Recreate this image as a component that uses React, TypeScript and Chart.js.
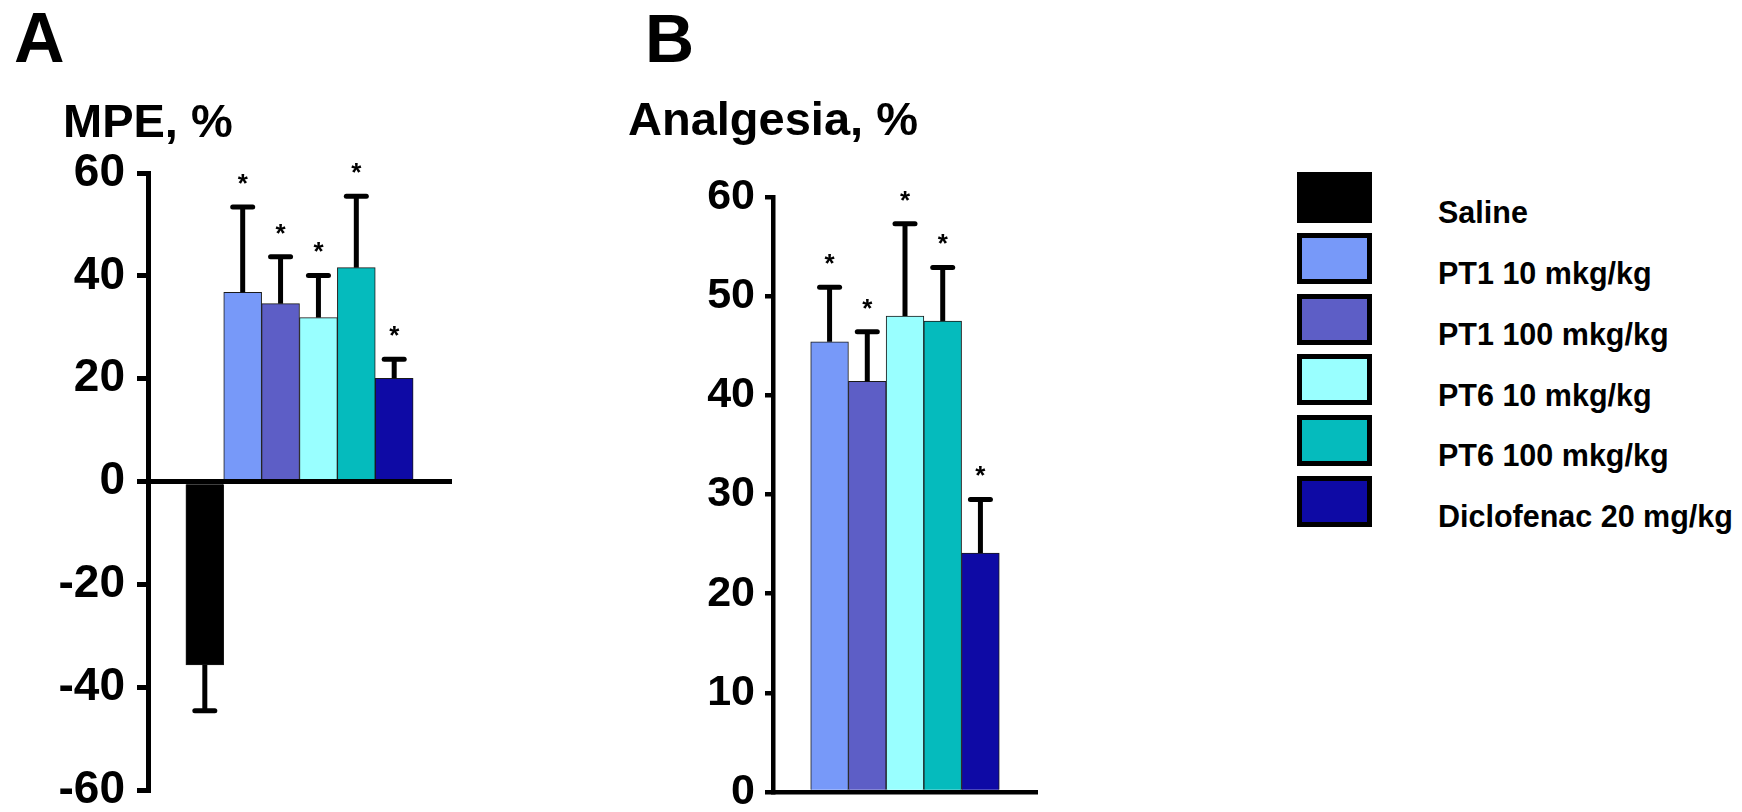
import { useEffect, useRef } from 'react';
import { Chart, registerables } from 'chart.js';

Chart.register(...registerables);

const FONT = '"Liberation Sans", Arial, Helvetica, sans-serif';

// Treatment groups, shared by both panels and the legend
const groups = [
  'Saline',
  'PT1 10 mkg/kg',
  'PT1 100 mkg/kg',
  'PT6 10 mkg/kg',
  'PT6 100 mkg/kg',
  'Diclofenac 20 mg/kg',
];
const groupColors = ['#000000', '#7799f9', '#5d5ec6', '#99ffff', '#05bbbd', '#0e0aa5'];

// Panel A: maximum possible effect, %
const mpeMean = [-35.6, 36.8, 34.6, 31.9, 41.6, 20.1];
const mpeSem = [8.9, 16.6, 9.1, 8.2, 13.9, 3.7];
const mpeSignificant = [false, true, true, true, true, true];
const mpeTicks = [-60, -40, -20, 0, 20, 40, 60];

// Panel B: analgesia, % (no saline value)
const analgesiaMean = [null, 45.4, 41.4, 48.0, 47.5, 24.1];
const analgesiaSem = [null, 5.5, 5.0, 9.3, 5.4, 5.4];
const analgesiaSignificant = [false, true, true, true, true, true];
const analgesiaTicks = [0, 10, 20, 30, 40, 50, 60];

type Cell = number | null;

// Draws SEM whiskers and significance asterisks on top of the bars
function errorBarPlugin(sem: Cell[], significant: boolean[]) {
  return {
    id: 'errorBars',
    afterDatasetsDraw(chart: any) {
      const ctx: CanvasRenderingContext2D = chart.ctx;
      const meta = chart.getDatasetMeta(0);
      const yScale = chart.scales.y;
      const data: Cell[] = chart.data.datasets[0].data;
      ctx.save();
      ctx.strokeStyle = '#000';
      ctx.fillStyle = '#000';
      ctx.lineWidth = 5;
      meta.data.forEach((bar: any, i: number) => {
        const v = data[i];
        const e = sem[i];
        if (v == null || e == null) return;
        const dir = v < 0 ? -1 : 1;
        const x = bar.x;
        const y0 = yScale.getPixelForValue(v);
        const y1 = yScale.getPixelForValue(v + dir * e);
        ctx.lineCap = 'butt';
        ctx.beginPath();
        ctx.moveTo(x, y0);
        ctx.lineTo(x, y1);
        ctx.stroke();
        ctx.lineCap = 'round';
        ctx.beginPath();
        ctx.moveTo(x - 10, y1);
        ctx.lineTo(x + 10, y1);
        ctx.stroke();
        if (significant[i]) {
          ctx.font = `bold 26px ${FONT}`;
          ctx.textAlign = 'center';
          ctx.textBaseline = 'alphabetic';
          const m = ctx.measureText('*');
          const off = (m.actualBoundingBoxAscent - m.actualBoundingBoxDescent) / 2;
          const cy = y1 - dir * 28;
          ctx.fillText('*', x, cy + off);
        }
      });
      ctx.restore();
    },
  };
}

interface PanelSpec {
  labels: string[];
  values: Cell[];
  colors: string[];
  sem: Cell[];
  significant: boolean[];
  ticks: number[];
  axisWidth: number;
  tickLength: number;
  tickPadding: number;
  tickFont: number;
  lineWidth: number;
  padding: { top: number; right: number; bottom: number; left: number };
}

function makeChart(canvas: HTMLCanvasElement, spec: PanelSpec) {
  const step = spec.ticks[1] - spec.ticks[0];
  return new Chart(canvas, {
    type: 'bar',
    data: {
      labels: spec.labels,
      datasets: [
        {
          data: spec.values as any,
          backgroundColor: spec.colors,
          borderColor: '#1a1a1a',
          borderWidth: 1,
          barPercentage: 1,
          categoryPercentage: 1,
        },
      ],
    },
    options: {
      responsive: false,
      animation: false,
      devicePixelRatio: 1,
      events: [],
      layout: { padding: spec.padding },
      plugins: {
        legend: { display: false },
        tooltip: { enabled: false },
        title: { display: false },
      },
      scales: {
        x: {
          type: 'category',
          position: { y: 0 } as any,
          grid: { display: false },
          ticks: { display: false },
          border: { display: true, color: '#000', width: spec.lineWidth, z: 1 },
        },
        y: {
          type: 'linear',
          min: spec.ticks[0],
          max: spec.ticks[spec.ticks.length - 1],
          afterFit: (scale: any) => {
            scale.width = spec.axisWidth;
          },
          grid: {
            display: true,
            drawOnChartArea: false,
            drawTicks: true,
            tickLength: spec.tickLength,
            tickWidth: spec.lineWidth,
            tickColor: '#000',
            color: '#000',
            lineWidth: spec.lineWidth,
          },
          border: { display: true, color: '#000', width: spec.lineWidth },
          ticks: {
            stepSize: step,
            color: '#000',
            padding: spec.tickPadding,
            font: { family: FONT, size: spec.tickFont, weight: 'bold' },
          },
        },
      },
    },
    plugins: [errorBarPlugin(spec.sem, spec.significant)],
  });
}

const textBase: React.CSSProperties = {
  position: 'absolute',
  margin: 0,
  fontFamily: FONT,
  fontWeight: 'bold',
  lineHeight: 1,
  whiteSpace: 'nowrap',
  color: '#000',
};

export default function App() {
  const refA = useRef<HTMLCanvasElement>(null);
  const refB = useRef<HTMLCanvasElement>(null);

  useEffect(() => {
    const chartA = makeChart(refA.current!, {
      labels: ['', ...groups, ''],
      values: [null, ...mpeMean, null],
      colors: ['#ffffff', ...groupColors, '#ffffff'],
      sem: [null, ...mpeSem, null],
      significant: [false, ...mpeSignificant, false],
      ticks: mpeTicks,
      axisWidth: 148,
      tickLength: 11,
      tickPadding: 12,
      tickFont: 46,
      lineWidth: 5,
      padding: { top: 173, right: 109, bottom: 38, left: 0 },
    });
    const chartB = makeChart(refB.current!, {
      labels: [...groups, ''],
      values: [...analgesiaMean, null],
      colors: [...groupColors, '#ffffff'],
      sem: [...analgesiaSem, null],
      significant: [...analgesiaSignificant, false],
      ticks: analgesiaTicks,
      axisWidth: 173,
      tickLength: 8,
      tickPadding: 10,
      tickFont: 43,
      lineWidth: 4.5,
      padding: { top: 197, right: 83, bottom: 38, left: 0 },
    });
    return () => {
      chartA.destroy();
      chartB.destroy();
    };
  }, []);

  const legendTop = 172;
  const legendStep = 60.8;
  const boxH = 51;

  return (
    <div
      style={{
        position: 'absolute',
        left: 0,
        top: 0,
        width: 1742,
        height: 812,
        overflow: 'hidden',
        background: '#fff',
      }}
    >
      <canvas
        ref={refA}
        width={560}
        height={830}
        style={{ position: 'absolute', left: 0, top: 0, width: 560, height: 830 }}
      />
      <canvas
        ref={refB}
        width={520}
        height={830}
        style={{ position: 'absolute', left: 600, top: 0, width: 520, height: 830 }}
      />
      <div style={{ ...textBase, left: 14, top: 3, fontSize: 70 }}>A</div>
      <div style={{ ...textBase, left: 63, top: 97, fontSize: 47 }}>MPE, %</div>
      <div style={{ ...textBase, left: 645, top: 4, fontSize: 68 }}>B</div>
      <div style={{ ...textBase, left: 628, top: 95, fontSize: 47 }}>Analgesia, %</div>
      {groups.map((g, i) => {
        const top = legendTop + i * legendStep;
        return (
          <div key={g}>
            <div
              style={{
                position: 'absolute',
                left: 1297,
                top,
                width: 75,
                height: boxH,
                boxSizing: 'border-box',
                border: '5px solid #000',
                background: groupColors[i],
              }}
            />
            <div style={{ ...textBase, left: 1438, top: top + boxH - 25.8, fontSize: 30.5 }}>{g}</div>
          </div>
        );
      })}
    </div>
  );
}
